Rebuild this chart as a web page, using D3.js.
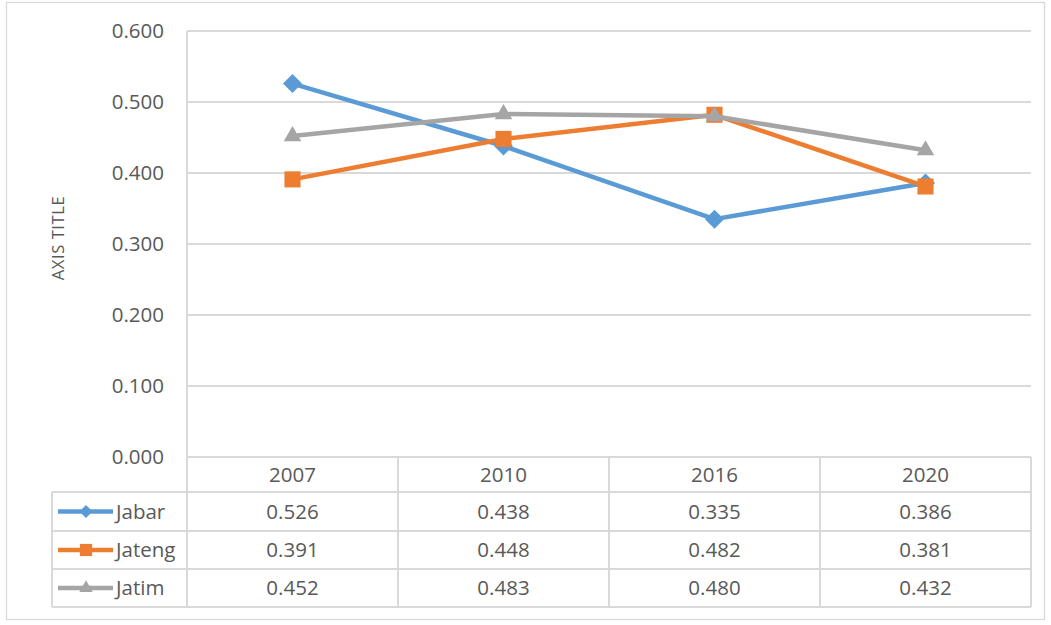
<!DOCTYPE html>
<meta charset="utf-8">
<style>
    body { margin: 0; background: #fff; }
    svg { display: block; }
    text {
        font-family: "Open Sans", "Liberation Sans", sans-serif;
        fill: #595959;
    }
    .grid { stroke: #d9d9d9; stroke-width: 1.3px; shape-rendering: crispEdges; }
</style>
<svg width="1051" height="625"></svg>
<script src="https://d3js.org/d3.v7.min.js"></script>
<script>

    var years = ["2007", "2010", "2016", "2020"];
    var seriesNames = ["Jabar", "Jateng", "Jatim"];
    var jabar = [0.526, 0.438, 0.335, 0.386];
    var jateng = [0.391, 0.448, 0.482, 0.381];
    var jatim = [0.452, 0.483, 0.480, 0.432];
    var yTicks = [0, 0.1, 0.2, 0.3, 0.4, 0.5, 0.6];
    var colors = ["#5b9bd5", "#ed7d31", "#a5a5a5"];
    var shapes = [d3.symbolDiamond2, d3.symbolSquare2, d3.symbolTriangle2];
    var markerSizes = [230, 330, 220];   // symbol areas, plot
    var keySizes = [110, 190, 130];      // symbol areas, table key

    var series = [jabar, jateng, jatim].map(function (vals, i) {
        return { name: seriesNames[i], values: vals, color: colors[i], shape: shapes[i],
                 size: markerSizes[i], keySize: keySizes[i] };
    });

    var svg = d3.select("svg");

    var plotLeft = 187, plotRight = 1031, plotTop = 31, plotBottom = 457;
    var tableLeft = 52;
    var rowLines = [457, 492, 531, 569, 607];
    var fontSize = "20.5px";

    var x = d3.scaleBand().domain(years).range([plotLeft, plotRight]);
    var y = d3.scaleLinear().domain([0, 0.6]).range([plotBottom, plotTop]);

    // outer chart border
    svg.append("rect")
        .attr("x", 6.5).attr("y", 2.5)
        .attr("width", 1038).attr("height", 617)
        .attr("fill", "none")
        .attr("stroke", "#d9d9d9")
        .attr("stroke-width", 1.3);

    // gridlines
    svg.selectAll("line.gy")
        .data(yTicks)
        .enter().append("line")
        .attr("class", "grid")
        .attr("x1", plotLeft).attr("x2", plotRight)
        .attr("y1", function (d) { return Math.round(y(d)); })
        .attr("y2", function (d) { return Math.round(y(d)); });

    // y tick labels
    svg.selectAll("text.ytick")
        .data(yTicks)
        .enter().append("text")
        .attr("class", "ytick")
        .attr("x", 164)
        .attr("y", function (d) { return y(d); })
        .attr("dy", "0.35em")
        .attr("text-anchor", "end")
        .style("font-size", fontSize)
        .text(function (d) { return d3.format(".3f")(d); });

    // axis title
    svg.append("text")
        .attr("transform", "translate(58," + 238 + ") rotate(-90)")
        .attr("text-anchor", "middle")
        .attr("dy", "0.35em")
        .style("font-size", "16.5px")
        .style("letter-spacing", "0.6px")
        .text("AXIS TITLE");

    // left axis line, through table
    svg.append("line").attr("class", "grid")
        .attr("x1", plotLeft).attr("x2", plotLeft)
        .attr("y1", plotTop).attr("y2", rowLines[4]);

    // table horizontal lines
    rowLines.forEach(function (ry, i) {
        svg.append("line").attr("class", "grid")
            .attr("x1", i === 0 ? plotLeft : tableLeft)
            .attr("x2", plotRight)
            .attr("y1", ry).attr("y2", ry);
    });
    // table vertical lines
    svg.append("line").attr("class", "grid")
        .attr("x1", tableLeft).attr("x2", tableLeft)
        .attr("y1", rowLines[1]).attr("y2", rowLines[4]);
    years.forEach(function (yr) {
        var bx = Math.round(x(yr) + x.bandwidth());
        svg.append("line").attr("class", "grid")
            .attr("x1", bx).attr("x2", bx)
            .attr("y1", rowLines[0]).attr("y2", rowLines[4]);
    });

    // header labels
    svg.selectAll("text.year")
        .data(years)
        .enter().append("text")
        .attr("class", "year")
        .attr("x", function (d) { return x(d) + x.bandwidth() / 2; })
        .attr("y", (rowLines[0] + rowLines[1]) / 2)
        .attr("dy", "0.35em")
        .attr("text-anchor", "middle")
        .style("font-size", fontSize)
        .text(function (d) { return d; });

    // table rows
    series.forEach(function (s, i) {
        var cy = (rowLines[i + 1] + rowLines[i + 2]) / 2;
        svg.append("line")
            .attr("x1", 58).attr("x2", 113)
            .attr("y1", cy).attr("y2", cy)
            .attr("stroke", s.color)
            .attr("stroke-width", 4.5);
        svg.append("path")
            .attr("d", d3.symbol().type(s.shape).size(s.keySize)())
            .attr("transform", "translate(86," + cy + ")")
            .attr("fill", s.color);
        svg.append("text")
            .attr("x", 116).attr("y", cy)
            .attr("dy", "0.35em")
            .style("font-size", fontSize)
            .text(s.name);
        svg.selectAll(null)
            .data(s.values)
            .enter().append("text")
            .attr("x", function (d, j) { return x(years[j]) + x.bandwidth() / 2; })
            .attr("y", cy)
            .attr("dy", "0.35em")
            .attr("text-anchor", "middle")
            .style("font-size", fontSize)
            .text(function (d) { return d3.format(".3f")(d); });
    });

    // lines and markers
    var line = d3.line()
        .x(function (d, j) { return x(years[j]) + x.bandwidth() / 2; })
        .y(function (d) { return y(d); });

    series.forEach(function (s) {
        var g = svg.append("g");
        g.append("path")
            .attr("d", line(s.values))
            .attr("fill", "none")
            .attr("stroke", s.color)
            .attr("stroke-width", 4.5)
            .attr("stroke-linejoin", "round");
        g.selectAll("path.m")
            .data(s.values)
            .enter().append("path")
            .attr("class", "m")
            .attr("d", d3.symbol().type(s.shape).size(s.size)())
            .attr("transform", function (d, j) {
                return "translate(" + (x(years[j]) + x.bandwidth() / 2) + "," + y(d) + ")";
            })
            .attr("fill", s.color);
    });
</script>
